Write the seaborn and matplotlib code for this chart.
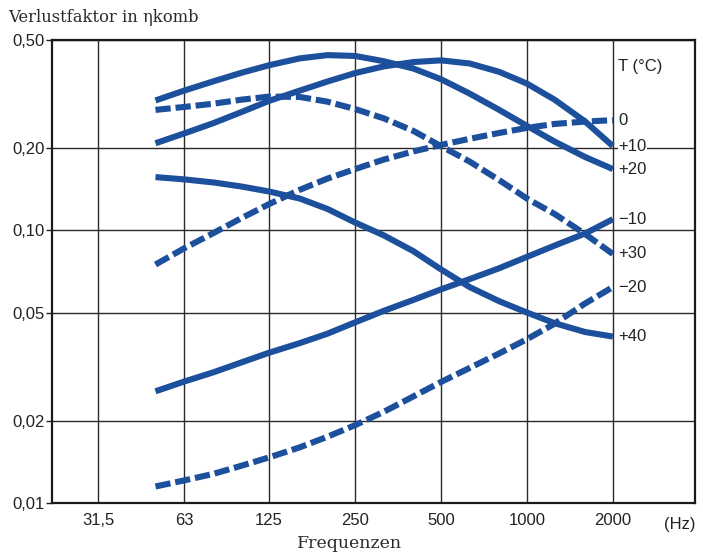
import matplotlib
matplotlib.use("Agg")
import matplotlib.pyplot as plt
import seaborn as sns
import pandas as pd

freqs = [50, 63, 80, 100, 125, 160, 200, 250, 315, 400, 500, 630, 800, 1000, 1250, 1600, 2000]

# Verlustfaktor per temperature (°C)
loss_0 = [0.075, 0.086, 0.098, 0.111, 0.125, 0.141, 0.155, 0.168, 0.182, 0.195, 0.206,
          0.217, 0.228, 0.238, 0.246, 0.251, 0.254]
loss_p10 = [0.209, 0.227, 0.248, 0.272, 0.299, 0.326, 0.352, 0.378, 0.400, 0.415, 0.421,
            0.410, 0.382, 0.346, 0.302, 0.251, 0.204]
loss_p20 = [0.300, 0.326, 0.353, 0.379, 0.404, 0.428, 0.440, 0.437, 0.418, 0.393, 0.359,
            0.318, 0.277, 0.242, 0.212, 0.186, 0.168]
loss_m10 = [0.0257, 0.0279, 0.0302, 0.0328, 0.0356, 0.0386, 0.0418, 0.0460, 0.0507, 0.0556,
            0.0608, 0.0663, 0.0727, 0.0800, 0.0880, 0.0975, 0.110]
loss_p30 = [0.277, 0.284, 0.292, 0.302, 0.310, 0.309, 0.297, 0.279, 0.258, 0.232, 0.204,
            0.179, 0.153, 0.131, 0.115, 0.097, 0.082]
loss_m20 = [0.0115, 0.0121, 0.0128, 0.0137, 0.0147, 0.0160, 0.0175, 0.0193, 0.0216, 0.0246,
            0.0278, 0.0313, 0.0354, 0.0399, 0.0455, 0.0540, 0.0620]
loss_p40 = [0.157, 0.154, 0.150, 0.145, 0.139, 0.131, 0.120, 0.107, 0.096, 0.084, 0.0720,
            0.0620, 0.0550, 0.0500, 0.0457, 0.0424, 0.0408]

temp_labels = ["0", "+10", "+20", "−10", "+30", "−20", "+40"]
dashed = [True, False, False, False, True, True, False]
series = [loss_0, loss_p10, loss_p20, loss_m10, loss_p30, loss_m20, loss_p40]

x_ticks = [31.5, 63, 125, 250, 500, 1000, 2000]
x_ticklabels = ["31,5", "63", "125", "250", "500", "1000", "2000"]
y_ticks = [0.01, 0.02, 0.05, 0.10, 0.20, 0.50]
y_ticklabels = ["0,01", "0,02", "0,05", "0,10", "0,20", "0,50"]

blue = "#1c4f9c"
ink = "#222222"

sns.set_theme(style="white")
plt.rcParams["font.family"] = ["Liberation Sans", "DejaVu Sans"]

fig = plt.figure(figsize=(7.03, 5.58), dpi=100)
ax = fig.add_axes([52 / 703, 55 / 558, 643 / 703, 463 / 558])

for lab, vals, dsh in zip(temp_labels, series, dashed):
    df = pd.DataFrame({"freq": freqs, "loss": vals})
    ls = (0, (2.5, 0.8)) if dsh else "-"
    sns.lineplot(data=df, x="freq", y="loss", ax=ax, color=blue, linewidth=4.4,
                 linestyle=ls, solid_capstyle="butt", solid_joinstyle="round", zorder=3)
    ax.annotate(lab, xy=(freqs[-1], vals[-1]), xytext=(4, 0), textcoords="offset points",
                ha="left", va="center", fontsize=12, color=ink, zorder=4,
                bbox=dict(facecolor="white", edgecolor="none", pad=0.5))

ax.set_xscale("log", base=2)
ax.set_yscale("log")
ax.set_xlim(21.7, 3880)
ax.set_ylim(0.01, 0.5)
ax.set_xticks(x_ticks)
ax.set_xticklabels(x_ticklabels)
ax.set_yticks(y_ticks)
ax.set_yticklabels(y_ticklabels)
ax.minorticks_off()
ax.set_xlabel("")
ax.set_ylabel("")

ax.grid(True, color="#2a2a2a", linewidth=1.0, zorder=1)
ax.set_axisbelow(True)
for sp in ax.spines.values():
    sp.set_color("#1a1a1a")
    sp.set_linewidth(1.6)

ax.tick_params(axis="x", length=0, pad=7, labelsize=12, colors=ink)
ax.tick_params(axis="y", left=True, length=4, width=1.0, pad=1, labelsize=12, colors=ink)

ax.text(566 / 643, 1 - 26 / 463, "T (°C)", transform=ax.transAxes, ha="left",
        va="center", fontsize=12, color=ink)
ax.text(0.977, -0.03, "(Hz)", transform=ax.transAxes, ha="center", va="top",
        fontsize=12, color=ink)

fig.text(8 / 703, 1 - 18 / 558, "Verlustfaktor in ηkomb", ha="left", va="center",
         fontsize=11.8, color="#2a2a2a", family=["DejaVu Serif"])
fig.text(350 / 703, 1 - 543 / 558, "Frequenzen", ha="center", va="center",
         fontsize=12.5, color="#2a2a2a", family=["DejaVu Serif"])

fig.savefig("out.png", dpi=100, facecolor="white")
